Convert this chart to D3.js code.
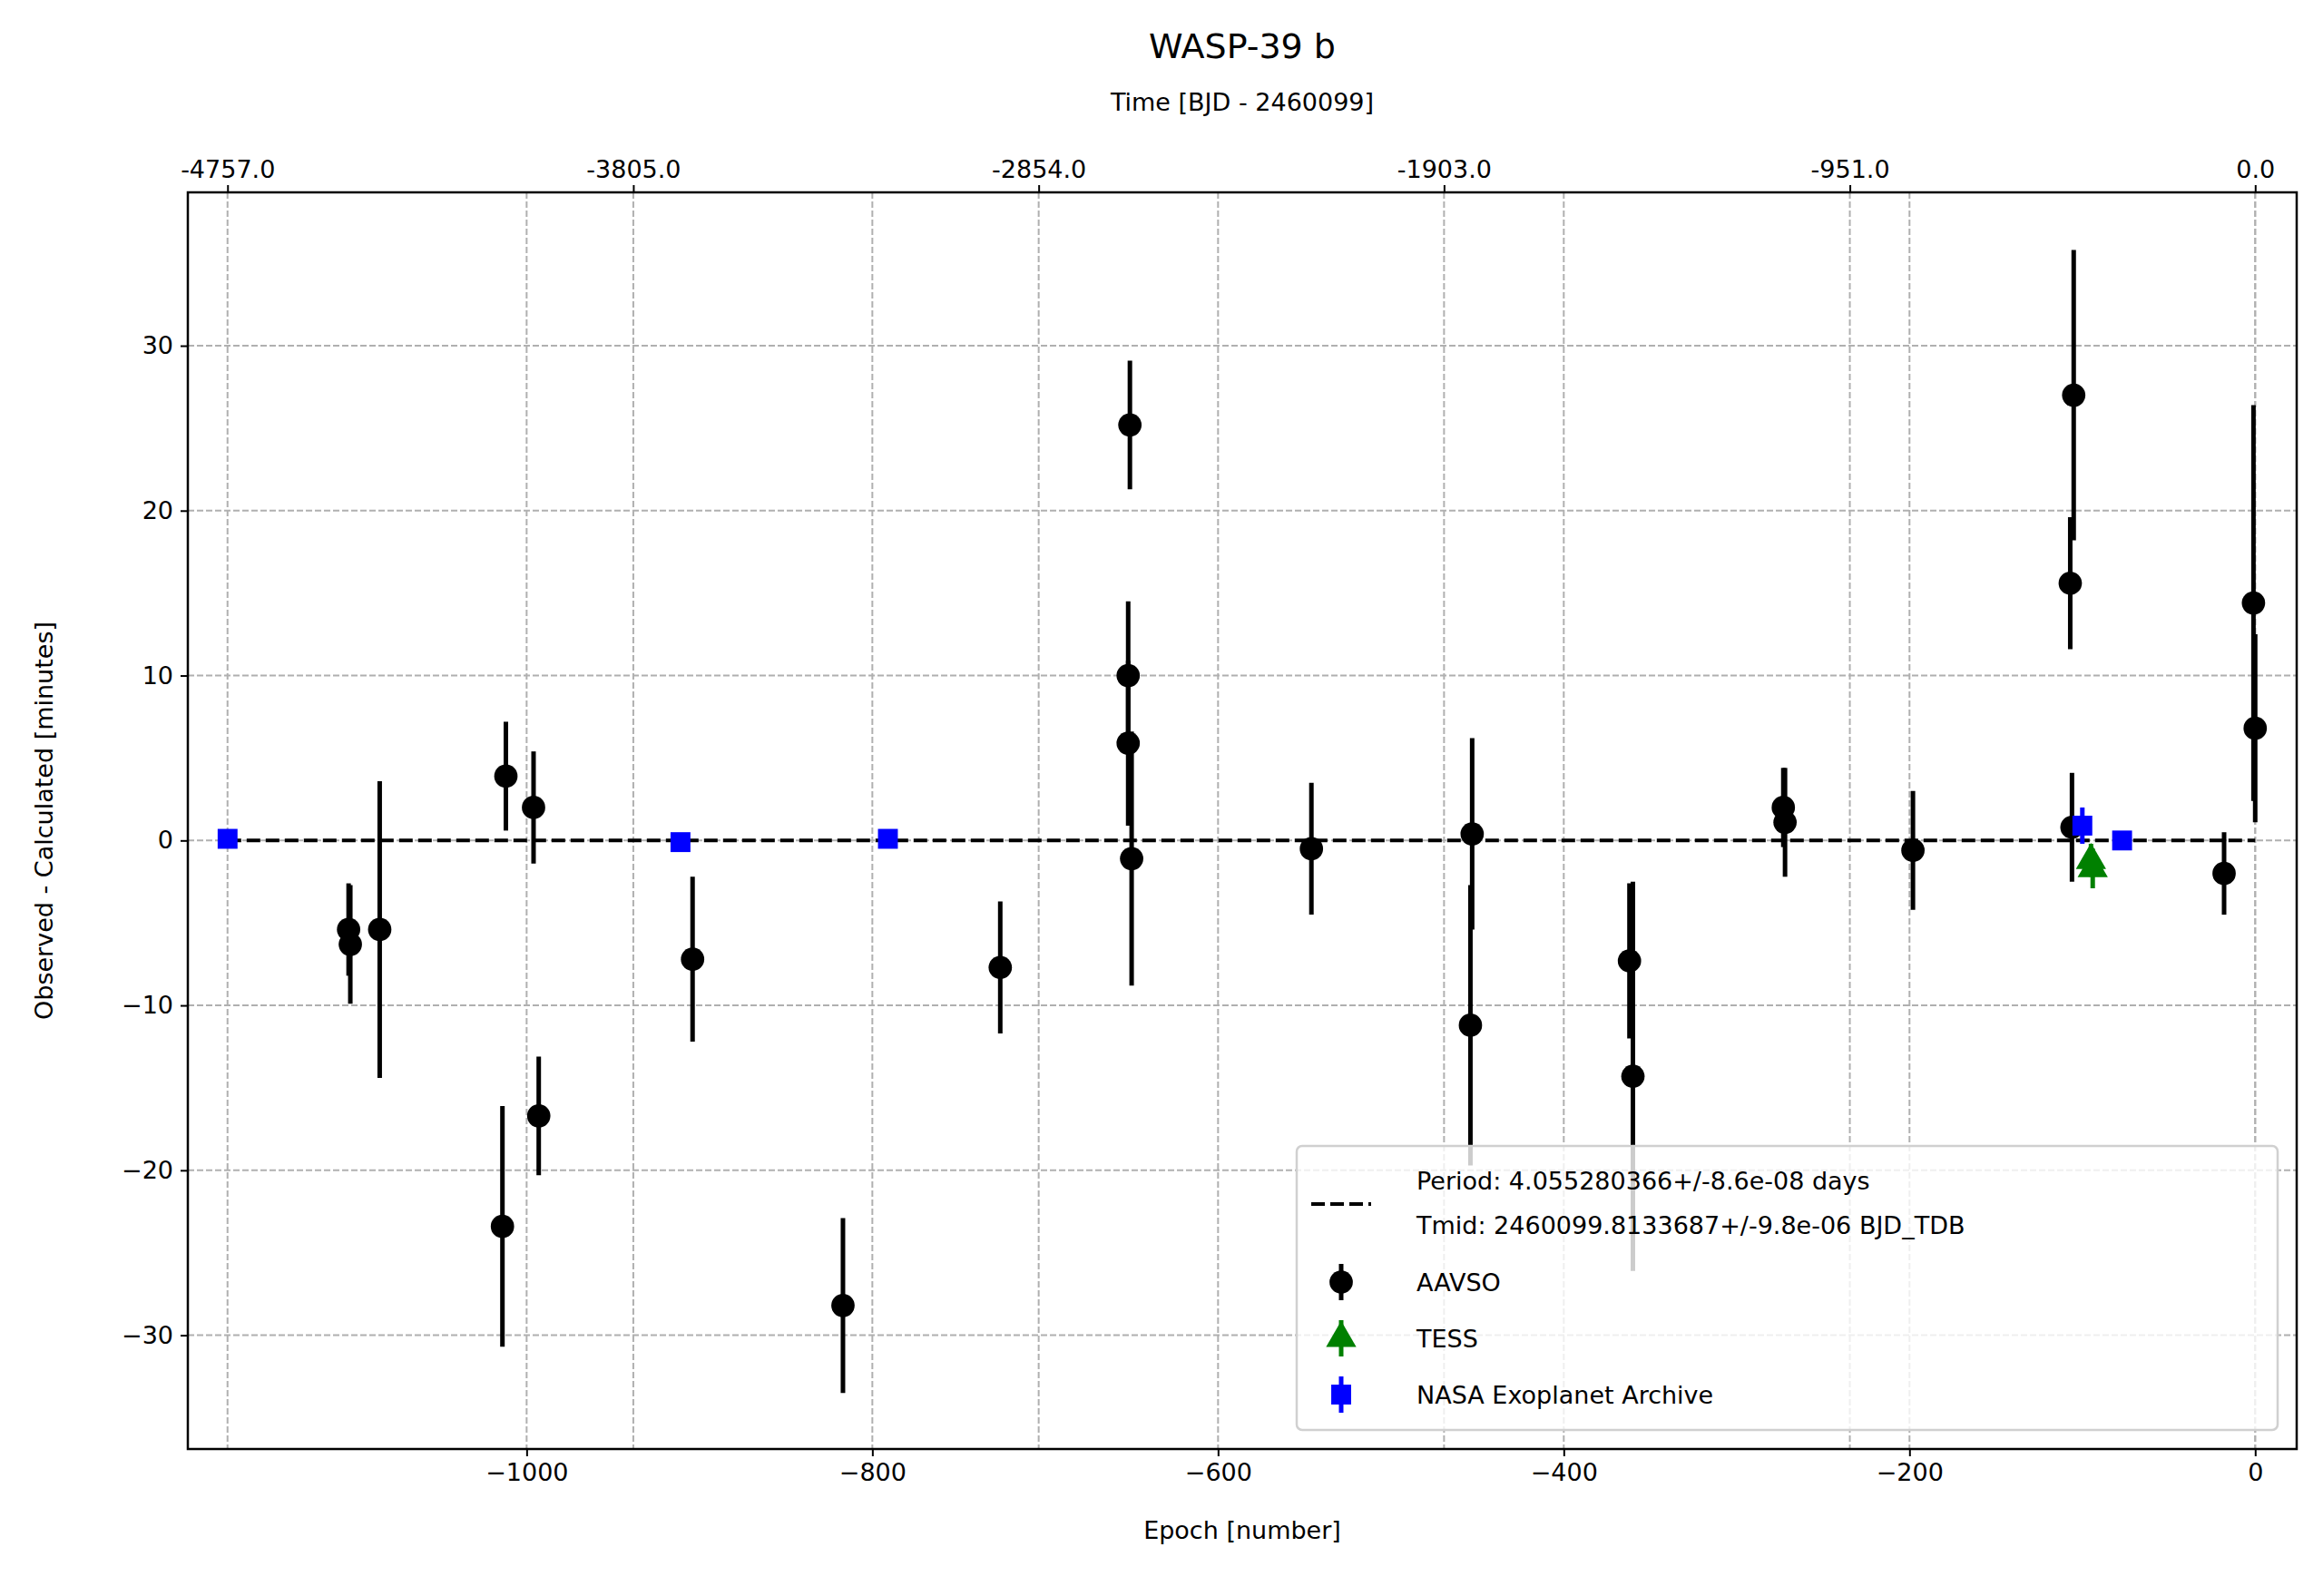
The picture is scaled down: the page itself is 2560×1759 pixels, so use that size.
<!DOCTYPE html>
<html><head><meta charset="utf-8">
<script src="https://cdn.jsdelivr.net/npm/d3@7"></script>
<style>
body{margin:0;background:#fff}
text{font-family:"DejaVu Sans",sans-serif;fill:#000}
</style></head>
<body><div id="chart"></div>
<script>
// [epoch, O-C minutes, error]
const aavso = [
  [-1103,-5.4,2.8],[-1102,-6.3,3.6],[-1085,-5.4,9],[-1012,3.9,3.3],[-1014,-23.4,7.3],
  [-996,2,3.4],[-993,-16.7,3.6],[-904,-7.2,5],[-817,-28.2,5.3],[-726,-7.7,4],
  [-652,10,4.5],[-651,25.2,3.9],[-652,5.9,5],[-650,-1.1,7.7],[-546,-0.5,4],
  [-453,0.4,5.8],[-454,-11.2,8.5],[-362,-7.3,4.7],[-360,-14.3,11.8],[-273,2,2.4],
  [-272,1.1,3.3],[-198,-0.6,3.6],[-105,27,8.8],[-107,15.6,4],[-106,0.8,3.3],
  [-18,-2,2.5],[-1,14.4,12],[0,6.8,5.7]
]
const tess = [[-95,-1.2,1],[-94,-1.7,1.2]]
const nasa = [[-1173,0.1,0.5],[-911,-0.1,0.5],[-791,0.1,0.5],[-100,0.9,1.1],[-77,0,0.4]]
const xTicks = [-1000,-800,-600,-400,-200,0]
const yTicks = [-30,-20,-10,0,10,20,30]
const topLabels = ['-4757.0','-3805.0','-2854.0','-1903.0','-951.0','0.0']
const period = 4.055280366

const W = 2560, H = 1759
const m = {l:207, r:2531, t:212, b:1597}
const svg = d3.select('#chart').append('svg').attr('width', W).attr('height', H)
const x = d3.scaleLinear().domain([-1196, 24]).range([m.l, m.r])
const y = d3.scaleLinear().domain([-36.9, 39.3]).range([m.b, m.t])
const topTicks = topLabels.map(s => +s / period)

// grid
const grid = svg.append('g').attr('stroke', '#b0b0b0').attr('stroke-width', 2).attr('stroke-dasharray', '7,3')
xTicks.forEach(t => grid.append('line').attr('x1', x(t)).attr('x2', x(t)).attr('y1', m.t).attr('y2', m.b))
topTicks.forEach(t => grid.append('line').attr('x1', x(t)).attr('x2', x(t)).attr('y1', m.t).attr('y2', m.b))
yTicks.forEach(t => grid.append('line').attr('x1', m.l).attr('x2', m.r).attr('y1', y(t)).attr('y2', y(t)))

// zero line
svg.append('line').attr('x1', x(-1173)).attr('x2', x(0)).attr('y1', y(0)).attr('y2', y(0))
  .attr('stroke', '#000').attr('stroke-width', 4).attr('stroke-dasharray', '15,6')

function series(data, color, shape) {
  const g = svg.append('g')
  g.selectAll('line').data(data).enter().append('line')
    .attr('x1', d => x(d[0])).attr('x2', d => x(d[0]))
    .attr('y1', d => y(d[1] - d[2])).attr('y2', d => y(d[1] + d[2]))
    .attr('stroke', color).attr('stroke-width', 5)
  const sym = d3.symbol().type(shape).size(shape === d3.symbolCircle ? 520 : 480)
  g.selectAll('path').data(data).enter().append('path')
    .attr('d', sym).attr('fill', color)
    .attr('transform', d => `translate(${x(d[0])},${y(d[1])})`)
}
series(aavso, '#000', d3.symbolCircle)
series(tess, 'green', d3.symbolTriangle)
series(nasa, 'blue', d3.symbolSquare)

// axes
const fs = 27
const minus = d => d < 0 ? '\u2212' + Math.abs(d) : d
const axBottom = svg.append('g').attr('transform', `translate(0,${m.b})`)
  .call(d3.axisBottom(x).tickValues(xTicks).tickSize(8).tickPadding(8).tickFormat(minus))
const axLeft = svg.append('g').attr('transform', `translate(${m.l},0)`)
  .call(d3.axisLeft(y).tickValues(yTicks).tickSize(8).tickPadding(8).tickFormat(minus))
const axTop = svg.append('g').attr('transform', `translate(0,${m.t})`)
  .call(d3.axisTop(x).tickValues(topTicks).tickSize(8).tickPadding(8).tickFormat((d, i) => topLabels[i]))
;[axBottom, axLeft, axTop].forEach(a => {
  a.select('.domain').remove()
  a.selectAll('line').attr('stroke-width', 2)
  a.selectAll('text').attr('font-size', fs).attr('font-family', 'DejaVu Sans')
})
svg.append('rect').attr('x', m.l).attr('y', m.t).attr('width', m.r - m.l).attr('height', m.b - m.t)
  .attr('fill', 'none').attr('stroke', '#000').attr('stroke-width', 2.5)

svg.append('text').attr('x', (m.l + m.r) / 2).attr('y', 1696).attr('text-anchor', 'middle').attr('font-size', fs).text('Epoch [number]')
svg.append('text').attr('x', (m.l + m.r) / 2).attr('y', 122).attr('text-anchor', 'middle').attr('font-size', fs).text('Time [BJD - 2460099]')
svg.append('text').attr('x', (m.l + m.r) / 2).attr('y', 64).attr('text-anchor', 'middle').attr('font-size', 38).text('WASP-39 b')
svg.append('text').attr('transform', `translate(58,${(m.t + m.b) / 2}) rotate(-90)`).attr('text-anchor', 'middle').attr('font-size', fs).text('Observed - Calculated [minutes]')

// legend
const lg = svg.append('g').attr('transform', 'translate(1429,1263)')
lg.append('rect').attr('width', 1081).attr('height', 313).attr('rx', 6)
  .attr('fill', 'rgba(255,255,255,0.8)').attr('stroke', '#d0d0d0').attr('stroke-width', 2.5)
lg.append('line').attr('x1', 16).attr('x2', 82).attr('y1', 64).attr('y2', 64).attr('stroke', '#000').attr('stroke-width', 4).attr('stroke-dasharray', '15,6')
lg.append('text').attr('x', 132).attr('y', 48).attr('font-size', fs).text('Period: 4.055280366+/-8.6e-08 days')
lg.append('text').attr('x', 132).attr('y', 97).attr('font-size', fs).text('Tmid: 2460099.8133687+/-9.8e-06 BJD_TDB')
const items = [['AAVSO', '#000', d3.symbolCircle], ['TESS', 'green', d3.symbolTriangle], ['NASA Exoplanet Archive', 'blue', d3.symbolSquare]]
items.forEach((it, i) => {
  const cy = 150 + i * 62
  lg.append('line').attr('x1', 49).attr('x2', 49).attr('y1', cy - 20).attr('y2', cy + 20).attr('stroke', it[1]).attr('stroke-width', 5)
  lg.append('path').attr('d', d3.symbol().type(it[2]).size(it[2] === d3.symbolCircle ? 520 : 480)()).attr('fill', it[1]).attr('transform', `translate(49,${cy})`)
  lg.append('text').attr('x', 132).attr('y', cy + 10).attr('font-size', fs).text(it[0])
})
</script></body></html>
